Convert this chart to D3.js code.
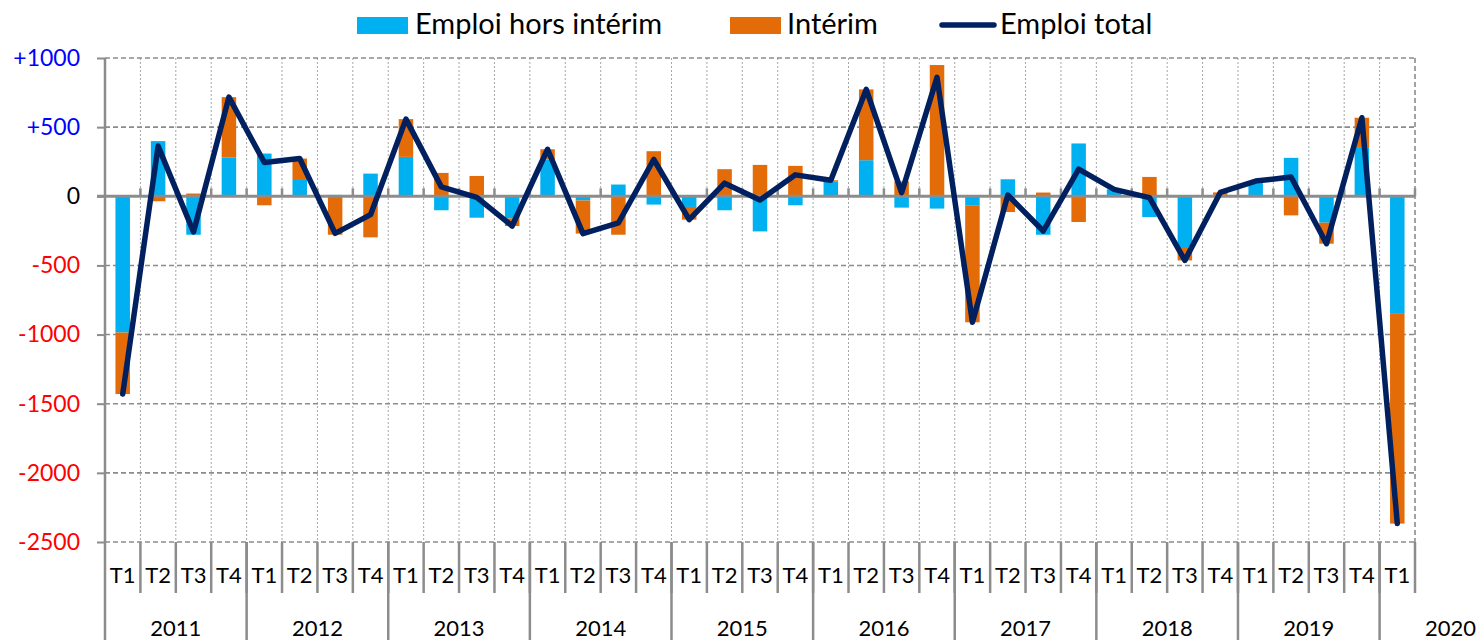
<!DOCTYPE html>
<html><head><meta charset="utf-8">
<script src="https://cdn.jsdelivr.net/npm/d3@7"></script>
<style>body{margin:0;background:#fff} svg{display:block}</style>
</head><body><svg id="chart" width="1480" height="640"></svg>
<script>
// ---- DATA ----
const quarterLabels = ["T1","T2","T3","T4","T1","T2","T3","T4","T1","T2","T3","T4","T1","T2","T3","T4","T1","T2","T3","T4","T1","T2","T3","T4","T1","T2","T3","T4","T1","T2","T3","T4","T1","T2","T3","T4","T1"];
const yearLabels = ["2011","2012","2013","2014","2015","2016","2017","2018","2019","2020"];
const quartersPerYear = [4,4,4,4,4,4,4,4,4,1];
const horsInterim = [-985, 399, -278, 280, 309, 118, 10, 164, 285, -101, -155, -160, 266, -30, 85, -60, -77, -101, -254, -65, 108, 261, -82, -89, -65, 123, -278, 382, 50, -150, -367, 10, 95, 278, -191, 350, -850];
const interim = [-445, -36, 20, 437, -65, 155, -278, -297, 273, 169, 147, -55, 74, -240, -278, 326, -92, 196, 227, 220, 8, 512, 108, 949, -846, -114, 27, -186, 0, 140, -97, 18, 15, -138, -152, 218, -1517];
const emploiTotal = [-1430, 363, -258, 717, 244, 273, -268, -133, 558, 68, -8, -215, 340, -270, -193, 266, -169, 95, -27, 155, 116, 773, 26, 860, -911, 9, -251, 196, 50, -10, -464, 28, 110, 140, -343, 568, -2367];
const yTicks = [-2500, -2000, -1500, -1000, -500, 0, 500, 1000];
const seriesNames = ["Emploi hors intérim", "Intérim", "Emploi total"];

// ---- STYLE ----
const C_BLUE = "#00B0F0", C_ORANGE = "#E36C09", C_LINE = "#002060", C_GRID = "#8c8c8c";
const FONT = "Lato, 'Open Sans', sans-serif";

const svg = d3.select("#chart");
const pLeft = 105, pRight = 1415, pTop = 58, pBottom = 542;
const idx = d3.range(quarterLabels.length);
const x = d3.scaleBand().domain(idx).range([pLeft, pRight]).padding(0);
const y = d3.scaleLinear().domain([-2500, 1000]).range([pBottom, pTop]);
const barW = 14.5;

const rows = idx.map(i => ({i, hors: horsInterim[i], interim: interim[i]}));
const stacked = d3.stack().keys(["hors","interim"]).offset(d3.stackOffsetDiverging)(rows);

// vertical dotted gridlines
svg.append("g").selectAll("line").data(d3.range(1, quarterLabels.length)).join("line")
  .attr("x1", i => x(i)).attr("x2", i => x(i))
  .attr("y1", pTop).attr("y2", pBottom)
  .attr("stroke", "#a6a6a6").attr("stroke-width", 1).attr("stroke-dasharray", "2,2");

// horizontal dashed gridlines
svg.append("g").selectAll("line").data(yTicks.filter(d => d !== 0)).join("line")
  .attr("x1", pLeft).attr("x2", pRight)
  .attr("y1", d => y(d)).attr("y2", d => y(d))
  .attr("stroke", C_GRID).attr("stroke-width", 1.6).attr("stroke-dasharray", "5,3");
// right border dashed
svg.append("line").attr("x1", pRight).attr("x2", pRight).attr("y1", pTop).attr("y2", pBottom)
  .attr("stroke", C_GRID).attr("stroke-width", 1.6).attr("stroke-dasharray", "5,3");

// bars
const colors = {hors: C_BLUE, interim: C_ORANGE};
svg.append("g").selectAll("g").data(stacked).join("g")
  .attr("fill", s => colors[s.key])
  .selectAll("rect").data(s => s).join("rect")
  .attr("x", d => x(d.data.i) + x.bandwidth()/2 - barW/2)
  .attr("width", barW)
  .attr("y", d => y(Math.max(d[0], d[1])))
  .attr("height", d => Math.abs(y(d[0]) - y(d[1])));

// y axis
const yAxis = d3.axisLeft(y).tickValues(yTicks).tickSize(8).tickPadding(17)
  .tickFormat(d => d > 0 ? "+" + d : String(d));
const gy = svg.append("g").attr("transform", `translate(${pLeft},0)`).call(yAxis);
gy.select(".domain").remove();
gy.selectAll(".tick line").attr("stroke", C_GRID).attr("stroke-width", 2);
gy.selectAll(".tick text").attr("font-family", FONT).attr("font-size", 23)
  .attr("fill", d => d > 0 ? "#0000FF" : (d < 0 ? "#FF0000" : "#000"));
// left axis line extending through category labels
svg.append("line").attr("x1", pLeft).attr("x2", pLeft).attr("y1", pTop).attr("y2", 640)
  .attr("stroke", C_GRID).attr("stroke-width", 2.5);

// zero line with ticks
svg.append("line").attr("x1", pLeft - 8).attr("x2", pRight).attr("y1", y(0)).attr("y2", y(0))
  .attr("stroke", C_GRID).attr("stroke-width", 3);
svg.append("g").selectAll("line").data(d3.range(1, quarterLabels.length + 1)).join("line")
  .attr("x1", i => x.step()*i + pLeft).attr("x2", i => x.step()*i + pLeft)
  .attr("y1", y(0) - 8).attr("y2", y(0))
  .attr("stroke", C_GRID).attr("stroke-width", 2.5);

// bottom category axis: quarter labels
const xAxis = d3.axisBottom(x).tickSize(0).tickPadding(0).tickFormat(i => quarterLabels[i]);
const gx = svg.append("g").attr("transform", `translate(0,${pBottom})`).call(xAxis);
gx.select(".domain").remove();
gx.selectAll(".tick text").attr("font-family", FONT).attr("font-size", 22).attr("fill", "#000")
  .attr("dy", null).attr("y", 41);

// quarter separators
svg.append("g").selectAll("line").data(d3.range(1, quarterLabels.length + 1)).join("line")
  .attr("x1", i => pLeft + x.step()*i).attr("x2", i => pLeft + x.step()*i)
  .attr("y1", pBottom).attr("y2", pBottom + 51)
  .attr("stroke", C_GRID).attr("stroke-width", 2.5);
// year separators & labels
const yearStart = [];
quartersPerYear.reduce((acc, n) => { yearStart.push(acc); return acc + n; }, 0);
svg.append("g").selectAll("line").data(yearStart.slice(1)).join("line")
  .attr("x1", i => pLeft + x.step()*i).attr("x2", i => pLeft + x.step()*i)
  .attr("y1", pBottom).attr("y2", 640)
  .attr("stroke", C_GRID).attr("stroke-width", 2.5);
svg.append("g").selectAll("text").data(yearLabels).join("text")
  .attr("x", (d, k) => x(yearStart[k]) + 2 * x.step())
  .attr("y", 636).attr("text-anchor", "middle")
  .attr("font-family", FONT).attr("font-size", 22).attr("fill", "#000")
  .text(d => d);

// total line
const line = d3.line().x((d, i) => x(i) + x.bandwidth()/2).y(d => y(d));
svg.append("path").datum(emploiTotal).attr("d", line)
  .attr("fill", "none").attr("stroke", C_LINE).attr("stroke-width", 5.5)
  .attr("stroke-linejoin", "round").attr("stroke-linecap", "round");

// legend
const lg = svg.append("g");
lg.append("rect").attr("x", 357).attr("y", 17).attr("width", 51).attr("height", 17).attr("fill", C_BLUE);
lg.append("text").attr("x", 415).attr("y", 34).text(seriesNames[0]);
lg.append("rect").attr("x", 730).attr("y", 17).attr("width", 51).attr("height", 17).attr("fill", C_ORANGE);
lg.append("text").attr("x", 787).attr("y", 34).text(seriesNames[1]);
lg.append("line").attr("x1", 942).attr("x2", 994).attr("y1", 25).attr("y2", 25)
  .attr("stroke", C_LINE).attr("stroke-width", 5.5).attr("stroke-linecap", "round");
lg.append("text").attr("x", 1000).attr("y", 34).text(seriesNames[2]);
lg.selectAll("text").attr("font-family", FONT).attr("font-size", 29).attr("fill", "#000");
</script></body></html>
